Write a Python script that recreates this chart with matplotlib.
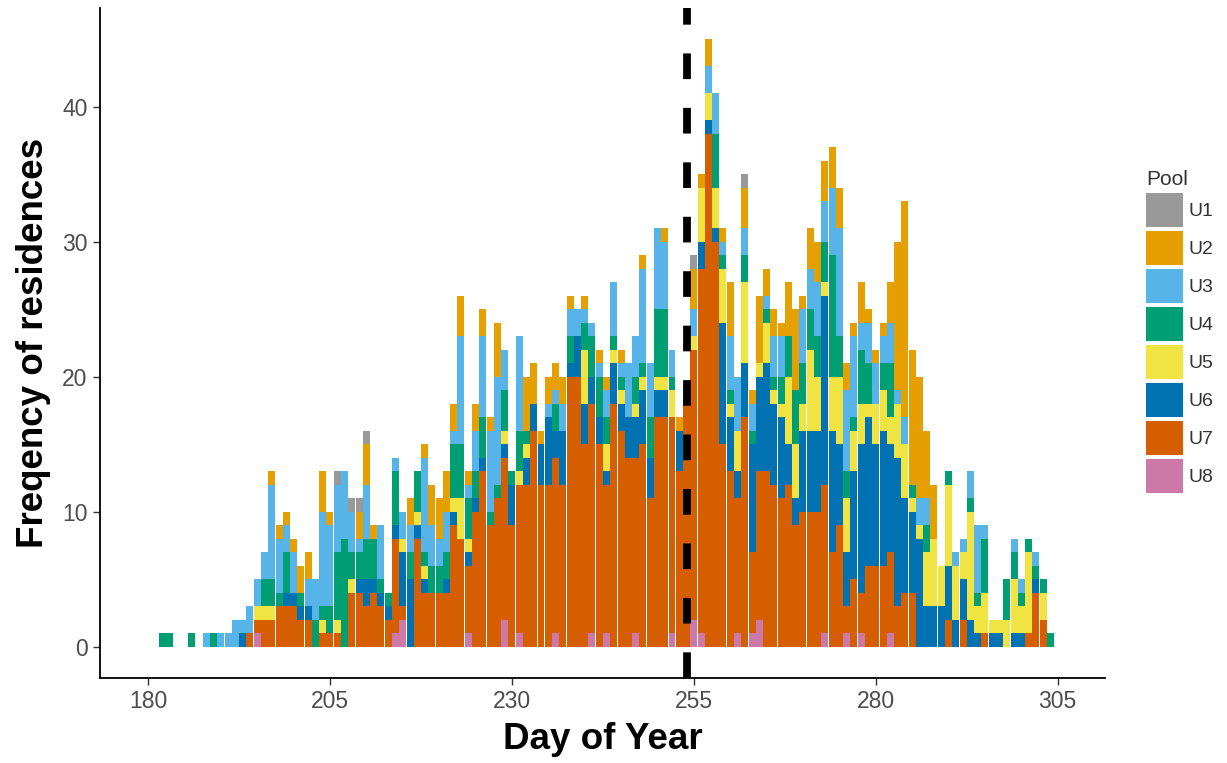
import numpy as np
import matplotlib
matplotlib.use("Agg")
import matplotlib.pyplot as plt
from matplotlib.patches import Patch

plt.rcParams["font.family"] = ["Liberation Sans", "DejaVu Sans"]

# Day of year for every bin (one bar per day)
days = np.arange(182, 305)

pools = ["U1", "U2", "U3", "U4", "U5", "U6", "U7", "U8"]
pool_colors = ["#999999", "#E69F00", "#56B4E9", "#009E73",
               "#F0E442", "#0072B2", "#D55E00", "#CC79A7"]

# Residence counts per pool, days 182..304 (rows of ten days)
u1 = [0, 0, 0, 0, 0, 0, 0, 0, 0, 0,
      0, 0, 0, 0, 0, 0, 0, 0, 0, 0,
      0, 0, 0, 0, 1, 0, 1, 1, 1, 0,
      0, 0, 0, 0, 0, 0, 0, 0, 0, 0,
      0, 0, 0, 0, 0, 0, 0, 0, 0, 0,
      0, 0, 0, 0, 0, 0, 0, 0, 0, 0,
      0, 0, 0, 0, 0, 0, 0, 0, 0, 0,
      0, 0, 0, 1, 0, 0, 0, 0, 0, 0,
      1, 0, 0, 0, 0, 0, 0, 0, 0, 0,
      0, 0, 0, 0, 0, 0, 0, 0, 0, 0,
      0, 0, 0, 0, 0, 0, 0, 0, 0, 0,
      0, 0, 0, 0, 0, 0, 0, 0, 0, 0,
      0, 0, 0]
u2 = [0, 0, 0, 0, 0, 0, 0, 0, 0, 0,
      0, 0, 0, 0, 0, 1, 1, 1, 1, 2,
      2, 0, 3, 1, 0, 0, 0, 2, 3, 1,
      0, 0, 0, 0, 2, 0, 1, 3, 3, 3,
      2, 3, 1, 2, 2, 1, 4, 0, 0, 0,
      4, 3, 1, 2, 2, 2, 1, 0, 1, 0,
      1, 1, 0, 1, 0, 0, 1, 0, 0, 1,
      0, 1, 1, 3, 1, 2, 0, 1, 4, 0,
      3, 1, 5, 2, 2, 1, 4, 6, 1, 3,
      3, 3, 3, 3, 2, 1, 3, 1, 1, 1,
      3, 11, 16, 10, 9, 5, 4, 0, 0, 0,
      0, 0, 0, 0, 0, 0, 0, 0, 0, 0,
      0, 0, 0]
u3 = [0, 0, 0, 0, 0, 0, 1, 0, 1, 1,
      2, 1, 2, 2, 2, 7, 4, 2, 3, 0,
      2, 3, 7, 6, 5, 5, 3, 1, 4, 0,
      4, 0, 1, 2, 2, 0, 7, 3, 2, 3,
      1, 8, 1, 3, 6, 6, 8, 3, 0, 7,
      0, 0, 0, 1, 1, 2, 2, 2, 1, 1,
      1, 2, 4, 1, 4, 3, 7, 4, 6, 5,
      2, 0, 0, 2, 0, 2, 3, 1, 4, 4,
      2, 2, 0, 1, 3, 3, 0, 0, 4, 3,
      4, 3, 5, 8, 6, 6, 2, 3, 3, 2,
      3, 1, 2, 0, 2, 2, 0, 0, 0, 1,
      1, 2, 5, 1, 0, 0, 0, 1, 1, 0,
      1, 0, 0]
u4 = [1, 1, 0, 0, 1, 0, 0, 1, 0, 0,
      0, 0, 0, 0, 2, 2, 1, 3, 0, 1,
      0, 2, 1, 2, 5, 8, 2, 2, 3, 3,
      1, 1, 4, 0, 2, 3, 1, 2, 2, 2,
      4, 4, 3, 2, 3, 1, 1, 3, 1, 3,
      1, 0, 0, 0, 2, 0, 2, 0, 2, 3,
      3, 2, 1, 1, 0, 2, 1, 3, 5, 5,
      1, 0, 0, 0, 0, 0, 4, 1, 1, 0,
      2, 1, 0, 1, 1, 2, 3, 4, 3, 3,
      3, 3, 9, 3, 2, 1, 4, 3, 0, 2,
      4, 0, 0, 1, 0, 2, 0, 0, 1, 0,
      0, 1, 1, 4, 0, 0, 3, 2, 1, 1,
      1, 1, 1]
u5 = [0, 0, 0, 0, 0, 0, 0, 0, 0, 0,
      0, 0, 0, 1, 1, 1, 0, 0, 0, 0,
      0, 0, 1, 0, 1, 0, 1, 0, 0, 0,
      0, 0, 0, 1, 0, 1, 1, 0, 0, 0,
      1, 3, 1, 0, 0, 0, 0, 1, 0, 1,
      1, 0, 0, 0, 0, 0, 0, 0, 4, 0,
      0, 2, 1, 1, 0, 1, 1, 0, 1, 1,
      2, 0, 0, 1, 4, 2, 3, 4, 1, 3,
      6, 0, 1, 3, 1, 1, 5, 4, 2, 6,
      4, 1, 4, 5, 4, 3, 3, 1, 3, 3,
      2, 4, 4, 1, 1, 4, 5, 3, 6, 4,
      2, 8, 2, 3, 1, 1, 2, 4, 2, 6,
      0, 2, 0]
u6 = [0, 0, 0, 0, 0, 0, 0, 0, 0, 0,
      0, 1, 0, 0, 0, 0, 0, 1, 1, 1,
      1, 0, 0, 0, 0, 0, 0, 1, 2, 1,
      1, 1, 1, 4, 5, 1, 1, 0, 0, 1,
      1, 0, 1, 1, 1, 0, 0, 1, 3, 0,
      2, 2, 3, 5, 2, 4, 1, 3, 3, 2,
      2, 1, 3, 2, 3, 3, 4, 3, 2, 2,
      0, 3, 0, 0, 2, 1, 1, 9, 4, 2,
      4, 8, 7, 8, 6, 6, 3, 2, 6, 6,
      6, 14, 9, 6, 4, 8, 11, 11, 9, 10,
      8, 11, 7, 6, 8, 3, 3, 3, 4, 2,
      3, 2, 1, 0, 1, 1, 0, 1, 1, 0,
      1, 0, 0]
u7 = [0, 0, 0, 0, 0, 0, 0, 0, 0, 0,
      0, 0, 1, 1, 2, 2, 3, 3, 3, 2,
      2, 0, 1, 1, 1, 0, 4, 4, 3, 4,
      3, 2, 7, 1, 0, 8, 4, 4, 4, 4,
      9, 8, 5, 10, 13, 9, 11, 12, 9, 11,
      12, 16, 12, 12, 13, 12, 20, 20, 15, 17,
      15, 11, 18, 16, 14, 13, 15, 11, 17, 17,
      16, 13, 18, 20, 27, 38, 30, 15, 13, 10,
      17, 6, 11, 13, 12, 11, 12, 9, 10, 10,
      10, 11, 7, 9, 2, 5, 3, 6, 6, 6,
      6, 3, 4, 4, 0, 0, 0, 0, 2, 0,
      2, 0, 0, 1, 0, 0, 0, 0, 0, 1,
      4, 2, 0]
u8 = [0, 0, 0, 0, 0, 0, 0, 0, 0, 0,
      0, 0, 0, 1, 0, 0, 0, 0, 0, 0,
      0, 0, 0, 0, 0, 0, 0, 0, 0, 0,
      0, 0, 1, 2, 0, 0, 0, 0, 0, 0,
      0, 0, 1, 0, 0, 0, 0, 2, 0, 1,
      0, 0, 0, 0, 1, 0, 0, 0, 0, 1,
      0, 1, 0, 0, 0, 1, 0, 0, 0, 0,
      1, 0, 0, 2, 1, 0, 0, 0, 0, 1,
      0, 1, 2, 0, 0, 0, 0, 0, 0, 0,
      0, 1, 0, 0, 1, 0, 1, 0, 0, 0,
      1, 0, 0, 0, 0, 0, 0, 0, 0, 0,
      0, 0, 0, 0, 0, 0, 0, 0, 0, 0,
      0, 0, 0]

series = [u1, u2, u3, u4, u5, u6, u7, u8]

x_ticks = [180, 205, 230, 255, 280, 305]
y_ticks = [0, 10, 20, 30, 40]
cutoff_day = 254

fig = plt.figure(figsize=(12.27, 7.63), dpi=100)
ax = fig.add_axes([100 / 1227, 85 / 763, 1005 / 1227, 670 / 763])

# Stacked daily bars: U8 at the bottom, U1 on top
bottom = np.zeros(len(days))
for name, vals, col in reversed(list(zip(pools, series, pool_colors))):
    vals = np.asarray(vals, dtype=float)
    ax.bar(days, vals, width=0.96, bottom=bottom, color=col,
           linewidth=0, zorder=2)
    bottom += vals

ax.axvline(cutoff_day, color="black", lw=5.6,
           linestyle=(0, (3.3, 3.7)), zorder=3)

ax.set_xlim(173.4, 311.5)
ax.set_ylim(-2.3, 47.3)
ax.set_xticks(x_ticks)
ax.set_yticks(y_ticks)

for side in ("top", "right"):
    ax.spines[side].set_visible(False)
for side in ("left", "bottom"):
    ax.spines[side].set_linewidth(1.3)
    ax.spines[side].set_color("black")

ax.tick_params(axis="both", length=5, width=1, color="#333333",
               labelsize=16.5, labelcolor="#4D4D4D", pad=4)

ax.set_xlabel("Day of Year", fontsize=26.5, fontweight="bold", labelpad=6)
ax.set_ylabel("Freqency of residences", fontsize=26.5, fontweight="bold",
              labelpad=8)

handles = [Patch(facecolor=c, edgecolor="none") for c in pool_colors]
leg = fig.legend(handles, pools, loc="upper left",
                 bbox_to_anchor=(1146 / 1227, 1 - 170 / 763),
                 frameon=False, title="Pool", fontsize=14, title_fontsize=15,
                 handlelength=1.9, handleheight=2.32, labelspacing=0.2,
                 handletextpad=0.3, borderpad=0, borderaxespad=0,
                 alignment="left")
for t in leg.get_texts():
    t.set_color("#333333")
leg.get_title().set_color("#333333")

fig.savefig("out.png", dpi=100)
